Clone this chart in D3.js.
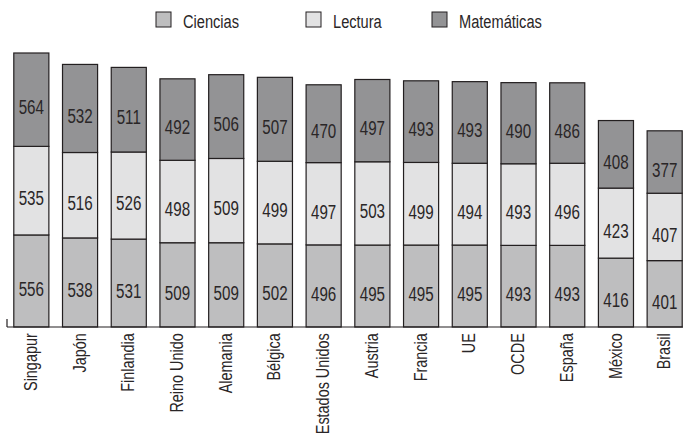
<!DOCTYPE html>
<html>
<head>
<meta charset="utf-8">
<script src="https://cdn.jsdelivr.net/npm/d3@7"></script>
<style>
    body { margin: 0; background: #fff; }
    text { font-family: "Liberation Sans", Arial, sans-serif; fill: #2a2627; }
</style>
</head>
<body>
<div id="chart"></div>
<script>
// data
var countries = ["Singapur", "Japón", "Finlandia", "Reino Unido", "Alemania", "Bélgica",
    "Estados Unidos", "Austria", "Francia", "UE", "OCDE", "España", "México", "Brasil"];
var ciencias = [556, 538, 531, 509, 509, 502, 496, 495, 495, 495, 493, 493, 416, 401];
var lectura = [535, 516, 526, 498, 509, 499, 497, 503, 499, 494, 493, 496, 423, 407];
var matematicas = [564, 532, 511, 492, 506, 507, 470, 497, 493, 493, 490, 486, 408, 377];
var seriesNames = ["Ciencias", "Lectura", "Matemáticas"];
var seriesColors = ["#bebebf", "#e2e2e3", "#939395"];

var svgWidth = 683, svgHeight = 434;
var baseY = 327, topY = 53;
// no condensed font installed, so text gets squeezed horizontally
var squeeze = 0.74;

var svg = d3.select("#chart")
    .append("svg")
    .attr("width", svgWidth)
    .attr("height", svgHeight);

// build rows for the stack
var rows = countries.map(function(c, i) {
    return { country: c, Ciencias: ciencias[i], Lectura: lectura[i], "Matemáticas": matematicas[i] };
});
var stacked = d3.stack().keys(seriesNames)(rows);

var xScale = d3.scaleBand()
    .domain(countries)
    .range([6, 690])
    .paddingInner(0.28)
    .paddingOuter(0.16);

var yScale = d3.scaleLinear()
    .domain([0, d3.max(rows, d => d.Ciencias + d.Lectura + d["Matemáticas"])])
    .range([baseY, topY]);

// bars
var layers = svg.append("g").selectAll("g")
    .data(stacked)
    .enter()
    .append("g")
    .attr("fill", (d, i) => seriesColors[i]);

layers.selectAll("rect")
    .data(d => d)
    .enter()
    .append("rect")
    .attr("x", d => xScale(d.data.country))
    .attr("y", d => yScale(d[1]))
    .attr("width", xScale.bandwidth())
    .attr("height", d => yScale(d[0]) - yScale(d[1]))
    .attr("stroke", "#231f20")
    .attr("stroke-width", 1.2);

// value labels
layers.selectAll("text")
    .data(d => d)
    .enter()
    .append("text")
    .attr("transform", d => `translate(${xScale(d.data.country) + xScale.bandwidth() / 2}, ${(yScale(d[0]) + yScale(d[1])) / 2}) scale(${squeeze}, 1)`)
    .attr("dy", "0.72em")
    .attr("text-anchor", "middle")
    .style("font-size", "20.5px")
    .text(d => d[1] - d[0]);

// x axis with rotated labels
var bottomAxis = d3.axisBottom(xScale).tickSize(0).tickPadding(0);
var xAxis = svg.append("g")
    .attr("transform", `translate(0, ${baseY})`)
    .call(bottomAxis);
xAxis.select(".domain").remove();
xAxis.selectAll("text")
    .attr("transform", "rotate(-90) scale(0.78, 1)")
    .attr("x", -8)
    .attr("y", 0)
    .attr("dy", "0.3em")
    .attr("text-anchor", "end")
    .style("font-size", "18.5px");

svg.append("line")
    .attr("x1", 7).attr("x2", 683)
    .attr("y1", baseY).attr("y2", baseY)
    .attr("stroke", "#231f20")
    .attr("stroke-width", 1.2);
svg.append("line")
    .attr("x1", 7).attr("x2", 7)
    .attr("y1", baseY - 8).attr("y2", baseY)
    .attr("stroke", "#231f20")
    .attr("stroke-width", 1.2);

// legend
var legendX = [156, 306, 432];
var legend = svg.append("g").selectAll("g")
    .data(seriesNames)
    .enter()
    .append("g")
    .attr("transform", (d, i) => `translate(${legendX[i]}, 12)`);
legend.append("rect")
    .attr("width", 15)
    .attr("height", 15)
    .attr("fill", (d, i) => seriesColors[i])
    .attr("stroke", "#231f20")
    .attr("stroke-width", 1);
legend.append("text")
    .attr("transform", "translate(27, 15.5) scale(0.77, 1)")
    .style("font-size", "19px")
    .text(d => d);
</script>
</body>
</html>
